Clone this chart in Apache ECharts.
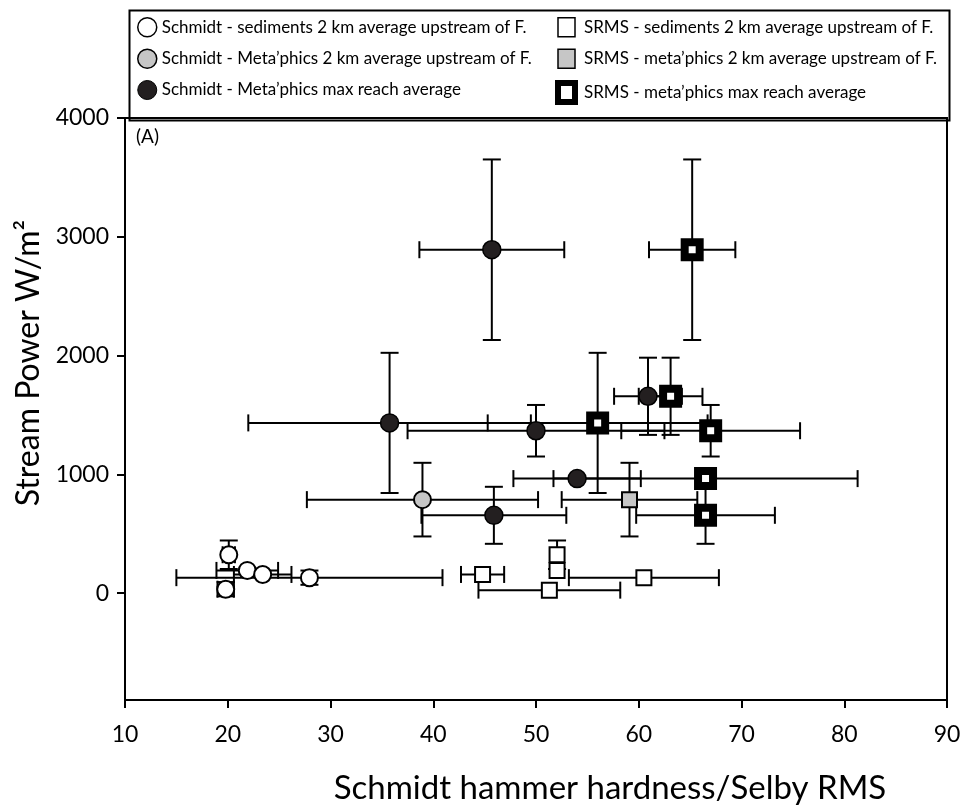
<!DOCTYPE html>
<html><head><meta charset="utf-8">
<script src="https://cdn.jsdelivr.net/npm/echarts@6/dist/echarts.min.js"></script>
<style>html,body{margin:0;padding:0;background:#fff}#chart{width:966px;height:810px}</style>
</head><body><div id="chart"></div>
<script>
// Each point: [x (hardness), y (stream power), x error, y error]
const schmidtSediments = [[20.1,323,0.6,120],[19.8,33,0.8,60],[21.9,191,3.0,0],[23.4,157,2.8,0],[27.95,130,12.95,60]];
const schmidtMeta2km = [[38.95,787,11.25,310]];
const schmidtMetaMax = [[45.7,2891,7.05,760],[35.75,1433,13.75,590],[50.0,1367,12.5,217],[60.9,1657,3.3,325],[54.0,964,6.2,0],[45.9,655,7.05,240]];
const srmsSediments = [[44.8,157,2.1,0],[51.3,25,6.9,0],[52.05,323,0,120],[52.05,191,0,0],[60.5,130,7.3,0]];
const srmsMeta2km = [[59.1,787,6.6,310]];
const srmsMetaMax = [[65.2,2891,4.2,760],[56.0,1433,10.7,590],[67.0,1367,8.7,217],[63.1,1657,3.1,325],[66.5,964,14.8,0],[66.5,655,6.75,240]];
const xTickValues = [10,20,30,40,50,60,70,80,90];
const yTickValues = [0,1000,2000,3000,4000];
const seriesNames = [
  'Schmidt - sediments 2 km average upstream of F.',
  'Schmidt - Meta\u2019phics 2 km average upstream of F.',
  'Schmidt - Meta\u2019phics max reach average',
  'SRMS - sediments 2 km average upstream of F.',
  'SRMS - meta\u2019phics 2 km average upstream of F.',
  'SRMS - meta\u2019phics max reach average'
];

const FONT = 'Lato';
const chart = echarts.init(document.getElementById('chart'), null, {renderer:'canvas'});

function errRender(params, api){
  const x = api.value(0), y = api.value(1), ex = api.value(2), ey = api.value(3);
  const st = {stroke:'#000', lineWidth:2};
  const ch = [];
  if (ex > 0) {
    const a = api.coord([x-ex, y]), b = api.coord([x+ex, y]);
    ch.push({type:'line', shape:{x1:a[0],y1:a[1],x2:b[0],y2:b[1]}, style:st});
    ch.push({type:'line', shape:{x1:a[0],y1:a[1]-8.5,x2:a[0],y2:a[1]+8.5}, style:st});
    ch.push({type:'line', shape:{x1:b[0],y1:b[1]-8.5,x2:b[0],y2:b[1]+8.5}, style:st});
  }
  if (ey > 0) {
    const a = api.coord([x, y-ey]), b = api.coord([x, y+ey]);
    ch.push({type:'line', shape:{x1:a[0],y1:a[1],x2:b[0],y2:b[1]}, style:st});
    ch.push({type:'line', shape:{x1:a[0]-9,y1:a[1],x2:a[0]+9,y2:a[1]}, style:st});
    ch.push({type:'line', shape:{x1:b[0]-9,y1:b[1],x2:b[0]+9,y2:b[1]}, style:st});
  }
  return {type:'group', children:ch};
}

const groups = [
  {data:schmidtSediments, symbol:'circle', size:17, style:{color:'#ffffff', borderColor:'#000', borderWidth:2, opacity:1}},
  {data:schmidtMeta2km, symbol:'circle', size:17, style:{color:'#c6c6c6', borderColor:'#000', borderWidth:2, opacity:1}},
  {data:schmidtMetaMax, symbol:'circle', size:18, style:{color:'#231f20', borderColor:'#000', borderWidth:1.5, opacity:1}},
  {data:srmsSediments, symbol:'rect', size:15, style:{color:'#ffffff', borderColor:'#000', borderWidth:2, opacity:1}},
  {data:srmsMeta2km, symbol:'rect', size:15, style:{color:'#c6c6c6', borderColor:'#000', borderWidth:2, opacity:1}},
  {data:srmsMetaMax, symbol:'rect', size:15, style:{color:'#ffffff', borderColor:'#000', borderWidth:8, opacity:1}}
];

const series = [];
groups.forEach((g, i) => {
  series.push({
    type:'custom', name:seriesNames[i] + ' error', renderItem:errRender,
    data:g.data, encode:{x:0, y:1}, z:2, silent:true, legendHoverLink:false
  });
});
groups.forEach((g, i) => {
  series.push({
    type:'scatter', name:seriesNames[i], data:g.data.map(d => [d[0], d[1]]),
    symbol:g.symbol, symbolSize:g.size, itemStyle:g.style, z:5, silent:true,
    emphasis:{disabled:true}
  });
});

const legendText = {fontFamily:FONT, fontSize:17, color:'#000'};
const option = {
  animation:false,
  backgroundColor:'#fff',
  grid:{left:125, right:19, top:118, bottom:102, show:true, borderColor:'#000', borderWidth:2, containLabel:false},
  legend:[
    {orient:'vertical', left:137, top:17, padding:0, itemGap:11, itemWidth:19, itemHeight:19, textStyle:legendText,
     data:[
       {name:seriesNames[0], itemStyle:{borderWidth:1.5, opacity:1}},
       {name:seriesNames[1], itemStyle:{borderWidth:1.5, opacity:1}},
       {name:seriesNames[2], itemStyle:{borderWidth:1, opacity:1}}
     ]},
    {orient:'vertical', left:555, top:17, padding:0, itemGap:11, itemWidth:17, itemHeight:19, textStyle:Object.assign({padding:[0,0,0,4]}, legendText),
     data:[
       {name:seriesNames[3], icon:'rect', itemStyle:{borderWidth:1.5, opacity:1}},
       {name:seriesNames[4], icon:'rect', itemStyle:{borderWidth:1.5, opacity:1}},
       {name:seriesNames[5], icon:'rect', itemStyle:{borderWidth:6, opacity:1}}
     ]}
  ],
  xAxis:{
    type:'value', min:10, max:90, interval:10,
    name:'Schmidt hammer hardness/Selby RMS', nameLocation:'middle', nameGap:72,
    nameTextStyle:{fontFamily:FONT, fontSize:33, color:'#000', padding:[0,0,0,148]},
    axisLine:{show:true, onZero:false, lineStyle:{color:'#000', width:2}},
    axisTick:{show:true, inside:false, length:8, lineStyle:{color:'#000', width:2}},
    axisLabel:{fontFamily:FONT, fontSize:23, color:'#000', margin:23},
    splitLine:{show:false}
  },
  yAxis:{
    type:'value', min:-900, max:4000,
    name:'Stream Power W/m\u00B2', nameLocation:'middle', nameGap:76, nameRotate:90,
    nameTextStyle:{fontFamily:FONT, fontSize:32, color:'#000', padding:[0,0,0,92]},
    axisLine:{show:true, onZero:false, lineStyle:{color:'#000', width:2}},
    axisTick:{show:true, inside:false, length:8, customValues:yTickValues, lineStyle:{color:'#000', width:2}},
    axisLabel:{fontFamily:FONT, fontSize:23, color:'#000', margin:16, customValues:yTickValues,
      formatter: v => String(v)},
    splitLine:{show:false}
  },
  graphic:[
    {type:'rect', left:127, top:8, shape:{width:820, height:110}, style:{fill:'none', stroke:'#000', lineWidth:2}, z:0},
    {type:'text', left:136, top:127, style:{text:'(A)', fontFamily:FONT, fontSize:19, fill:'#000'}, z:10}
  ],
  series:series
};
chart.setOption(option);
</script>
</body></html>
